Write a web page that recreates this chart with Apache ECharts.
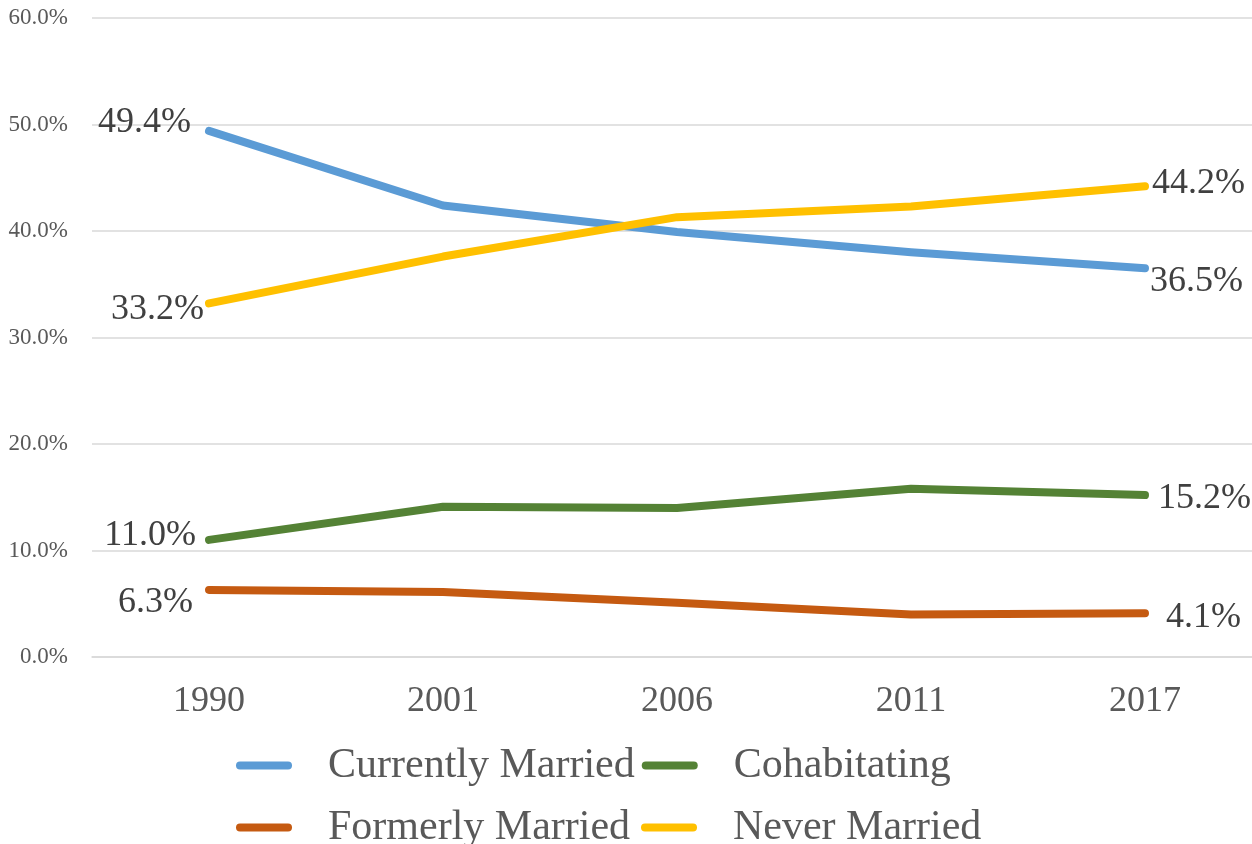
<!DOCTYPE html>
<html>
<head>
<meta charset="utf-8">
<script src="https://cdn.jsdelivr.net/npm/echarts@6/dist/echarts.min.js"></script>
<style>
  html, body { margin: 0; padding: 0; background: #ffffff; overflow: hidden; }
  /* the plot runs a little past the right edge of the window */
  #chart { width: 1262px; height: 844px; }
</style>
</head>
<body>
<div id="chart"></div>
<script>
// Survey years on the category axis
const years = ['1990', '2001', '2006', '2011', '2017'];

// Share of adults by marital status, in percent
const currentlyMarried = [49.4, 42.4, 39.9, 38.0, 36.5];
const cohabitating     = [11.0, 14.1, 14.0, 15.8, 15.2];
const formerlyMarried  = [6.3, 6.1, 5.1, 4.0, 4.1];
const neverMarried     = [33.2, 37.6, 41.3, 42.3, 44.2];

const seriesNames = ['Currently Married', 'Cohabitating', 'Formerly Married', 'Never Married'];
const seriesColors = ['#5B9BD5', '#548235', '#C55A11', '#FFC000'];

// Offsets of the end-point labels from their point: [first point, last point] as [dx, dy]
const endLabelOffsets = [
  [[-18, -8], [5, 13]],
  [[-13, -4.5], [13, 3]],
  [[-16, 12.5], [21, 4]],
  [[-5, 6], [7, -3]]
];

const serifFont = '"Liberation Serif", "Times New Roman", serif';
const SYMBOL_SIZE = 2;

function buildData(values, offsets) {
  return values.map(function (v, i) {
    const first = i === 0;
    const last = i === values.length - 1;
    if (!first && !last) {
      return { value: v, label: { show: false } };
    }
    const o = first ? offsets[0] : offsets[1];
    return {
      value: v,
      label: {
        show: true,
        // position is measured from the top-left of the point's symbol box
        position: [o[0] + SYMBOL_SIZE / 2, o[1] + SYMBOL_SIZE / 2],
        align: first ? 'right' : 'left',
        verticalAlign: 'middle'
      }
    };
  });
}

const allValues = [currentlyMarried, cohabitating, formerlyMarried, neverMarried];

const legendIcon = 'path://M4,0 L52,0 A4,4 0 0 1 52,8 L4,8 A4,4 0 0 1 4,0 Z';

const chart = echarts.init(document.getElementById('chart'));
chart.setOption({
  animation: false,
  backgroundColor: '#ffffff',
  grid: { left: 92, top: 18, right: 0, height: 639, containLabel: false },
  legend: {
    data: seriesNames.map(function (n) { return { name: n, icon: legendIcon }; }),
    left: 236,
    top: 738,
    width: 840,
    padding: 0,
    itemWidth: 56,
    itemHeight: 9,
    itemGap: 7,
    textStyle: {
      fontFamily: serifFont,
      fontSize: 42,
      color: '#595959',
      width: 306,
      lineHeight: 55,
      padding: [0, 0, 0, 31]
    }
  },
  xAxis: {
    type: 'category',
    data: years,
    boundaryGap: true,
    axisLine: { show: true, lineStyle: { color: '#d9d9d9', width: 1.5 } },
    axisTick: { show: false },
    axisLabel: {
      fontFamily: serifFont,
      fontSize: 36,
      color: '#595959',
      margin: 27
    },
    splitLine: { show: false }
  },
  yAxis: {
    type: 'value',
    min: 0,
    max: 60,
    interval: 10,
    axisLine: { show: false },
    axisTick: { show: false },
    axisLabel: {
      fontFamily: serifFont,
      fontSize: 23,
      color: '#595959',
      margin: 24,
      formatter: function (v) { return v.toFixed(1) + '%'; }
    },
    splitLine: { lineStyle: { color: '#d9d9d9', width: 1.5 } }
  },
  series: seriesNames.map(function (name, k) {
    return {
      name: name,
      type: 'line',
      data: buildData(allValues[k], endLabelOffsets[k]),
      symbol: 'circle',
      symbolSize: SYMBOL_SIZE,
      showSymbol: true,
      smooth: false,
      color: seriesColors[k],
      itemStyle: { color: seriesColors[k] },
      lineStyle: { width: 8, color: seriesColors[k], cap: 'round', join: 'round' },
      label: {
        fontFamily: serifFont,
        fontSize: 36,
        color: '#404040',
        formatter: function (d) { return d.value.toFixed(1) + '%'; }
      },
      labelLayout: { hideOverlap: false },
      z: k === 3 ? 4 : 3
    };
  })
});
</script>
</body>
</html>
